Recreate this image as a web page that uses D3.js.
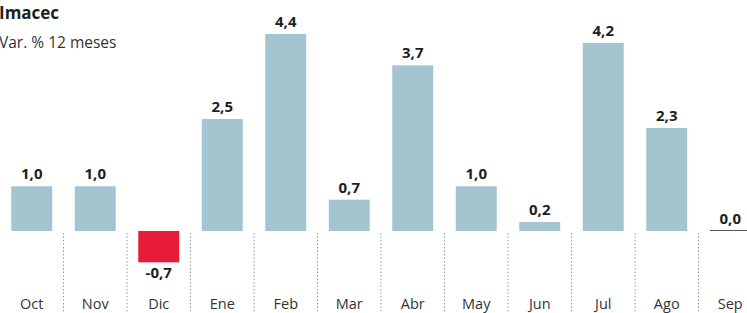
<!DOCTYPE html>
<html lang="es">
<head>
<meta charset="utf-8">
<title>Imacec</title>
<style>
   html,body { margin:0; padding:0; background:white; }
   svg { display:block; font-family:"Open Sans", "Noto Sans", sans-serif; }
</style>
<script src="https://d3js.org/d3.v7.min.js"></script>
</head>
<body>
<script>
// Imacec, variacion % en 12 meses
let months = ['Oct','Nov','Dic','Ene','Feb','Mar','Abr','May','Jun','Jul','Ago','Sep'];
let values = [1.0, 1.0, -0.7, 2.5, 4.4, 0.7, 3.7, 1.0, 0.2, 4.2, 2.3, 0.0];

let width = 747, height = 313;
let fnum = v => (v<0?'-':'') + Math.abs(v).toFixed(1).replace('.',',');

const svg = d3.select('body').append('svg')
   .attr('width',width).attr('height',height);

// bands run past the right edge, the last month is cut off
let x = d3.scaleBand().domain(months).range([0,762]).paddingInner(0.355).paddingOuter(0.1775);
let y = d3.scaleLinear().domain([0,4.4]).range([231,34]);

// dotted separators under the baseline
svg.append('g')
   .selectAll('line')
   .data(months.slice(1))
   .join('line')
   .attr('x1', d => x(d) - x.step()*x.paddingInner()/2)
   .attr('x2', d => x(d) - x.step()*x.paddingInner()/2)
   .attr('y1', y(0)+2).attr('y2', height)
   .attr('stroke','#9a9a9a').attr('stroke-width',1)
   .attr('stroke-dasharray','1.5,2');

let data = months.map((m,i) => ({month:m, value:values[i]}));

svg.append('g')
   .selectAll('rect')
   .data(data.filter(d => d.value!==0))
   .join('rect')
   .attr('x', d => x(d.month))
   .attr('y', d => Math.min(y(d.value), y(0)))
   .attr('width', x.bandwidth())
   .attr('height', d => Math.abs(y(d.value)-y(0)))
   .attr('fill', d => d.value<0 ? '#e81c39' : '#a4c4d0');

// zero value drawn as a thin line
svg.append('g')
   .selectAll('line')
   .data(data.filter(d => d.value===0))
   .join('line')
   .attr('x1', d => x(d.month)).attr('x2', d => x(d.month)+x.bandwidth())
   .attr('y1', y(0)-0.5).attr('y2', y(0)-0.5)
   .attr('stroke','#555').attr('stroke-width',1);

svg.append('g')
   .selectAll('text')
   .data(data)
   .join('text')
   .attr('x', d => x(d.month)+x.bandwidth()/2)
   .attr('y', d => d.value<0 ? y(d.value)+16 : y(d.value)-7)
   .attr('text-anchor','middle')
   .attr('font-size',15).attr('font-weight',700).attr('fill','#1e1e1e')
   .text(d => fnum(d.value));

svg.append('g')
   .selectAll('text')
   .data(months)
   .join('text')
   .attr('x', d => x(d)+x.bandwidth()/2)
   .attr('y', 309)
   .attr('text-anchor','middle')
   .attr('font-size',14.5).attr('fill','#333')
   .text(d => d);

svg.append('text').attr('x',-1).attr('y',19)
   .attr('font-size',17).attr('font-weight',700).attr('fill','#1e1e1e')
   .text('Imacec');
svg.append('text').attr('x',-1).attr('y',48)
   .attr('font-size',15.5).attr('fill','#333')
   .text('Var. % 12 meses');
</script>
</body>
</html>
